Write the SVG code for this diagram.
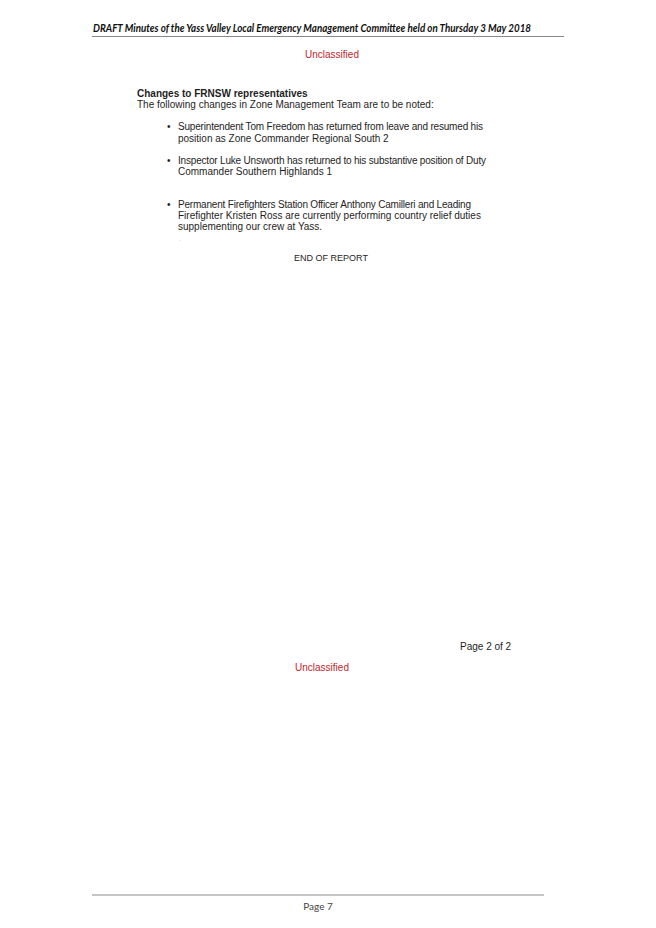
<svg xmlns="http://www.w3.org/2000/svg" width="656" height="928" viewBox="0 0 656 928">
<style>
.hdr{font-family:Lato,"Liberation Sans",sans-serif;font-weight:bold;font-style:italic;font-size:11px;fill:#111}
.body{font-family:"Liberation Sans",Arial,sans-serif;font-size:10px;fill:#1e1e1e}
.bold{font-weight:bold}
.red{font-family:"Liberation Sans",Arial,sans-serif;font-size:10px;fill:#c0262d}
.foot{font-family:Lato,"Liberation Sans",sans-serif;font-size:10px;fill:#444}
.rule{stroke:#8a8a8a;stroke-width:1.2}
</style>
<rect width="656" height="928" fill="#fff"/>
<g id="header">
<text class="hdr" x="93" y="32" textLength="438" lengthAdjust="spacingAndGlyphs">DRAFT Minutes of the Yass Valley Local Emergency Management Committee held on Thursday 3 May 2018</text>
<line class="rule" x1="92" y1="36.5" x2="564" y2="36.5"/>
</g>
<text class="red" x="332" y="58" text-anchor="middle">Unclassified</text>
<g id="content">
<text class="body bold" x="137" y="97">Changes to FRNSW representatives</text>
<text class="body" x="137" y="108">The following changes in Zone Management Team are to be noted:</text>
<text class="body" x="167" y="130">•</text>
<text class="body" x="178" y="130" textLength="305">Superintendent Tom Freedom has returned from leave and resumed his</text>
<text class="body" x="178" y="142">position as Zone Commander Regional South 2</text>
<text class="body" x="167" y="164">•</text>
<text class="body" x="178" y="164" textLength="308">Inspector Luke Unsworth has returned to his substantive position of Duty</text>
<text class="body" x="178" y="175">Commander Southern Highlands 1</text>
<text class="body" x="167" y="208">•</text>
<text class="body" x="178" y="208" textLength="293">Permanent Firefighters Station Officer Anthony Camilleri and Leading</text>
<text class="body" x="178" y="219">Firefighter Kristen Ross are currently performing country relief duties</text>
<text class="body" x="178" y="230">supplementing our crew at Yass.</text>
<text class="body" x="179" y="241" style="font-size:6px;fill:#999">.</text>
<text class="body" x="331" y="261" text-anchor="middle" style="font-size:9px">END OF REPORT</text>
<text class="body" x="460" y="650">Page 2 of 2</text>
<text class="red" x="322" y="671" text-anchor="middle">Unclassified</text>
</g>
<g id="footer">
<line class="rule" x1="92" y1="895" x2="544" y2="895"/>
<text class="foot" x="318" y="910" text-anchor="middle">Page 7</text>
</g>
</svg>
